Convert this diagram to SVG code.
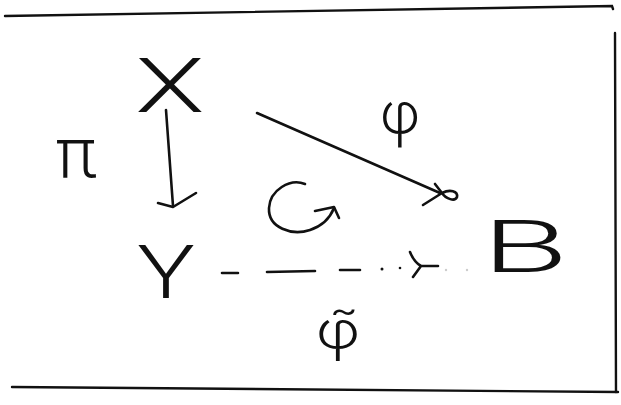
<svg xmlns="http://www.w3.org/2000/svg" width="621" height="405" viewBox="0 0 621 405">
<style>
.ln{fill:none;stroke:#111;stroke-width:2.6;stroke-linecap:round;stroke-linejoin:round}
.fr{fill:none;stroke:#111;stroke-width:2.4;stroke-linecap:round}
.lb{font-family:"Roboto","Liberation Sans",sans-serif;font-weight:300;fill:#111;text-anchor:middle}
.dot{fill:#111}
.faint{fill:#ccc}
</style>
<rect width="621" height="405" fill="#fff"/>
<g id="frame">
<path class="fr" d="M5,16 L612,6 L613,9"/>
<path class="fr" d="M12,387 L618,392"/>
<path class="fr" d="M615,33 L616,392"/>
</g>
<g id="node-X"><text class="lb" font-size="76" transform="translate(170,112) scale(1.5,1)">X</text></g>
<g id="node-Y"><text class="lb" font-size="74" transform="translate(166,298) scale(1.3,1)">Y</text></g>
<g id="node-B"><text class="lb" font-size="72" transform="translate(525,272) scale(1.95,1)">B</text></g>
<g id="connectors">
<g id="edge-pi">
<path class="ln" d="M166,110 L173,206"/>
<path class="ln" d="M158,203 L173,207 L196,193"/>
<text class="lb" font-size="70" x="76" y="177">π</text>
</g>
<g id="edge-phi">
<path class="ln" d="M257,113 L440,193"/>
<path class="ln" d="M423,205 L442,193 M435,184 L442,193 C450,189 458,191 457,197 C455,202 446,199 442,193"/>
<text class="lb" font-size="59" x="400" y="133">φ</text>
</g>
<g id="edge-phitilde">
<path class="ln" d="M222,273 L238,273 M267,272 L315,271 M340,270 L360,270"/>
<circle class="dot" cx="382" cy="269" r="1.5"/>
<circle class="dot" cx="400" cy="268" r="1.3"/>
<path class="ln" d="M410,252 Q414,262 421,266 L438,266 M421,266 L413,277"/>
<circle class="faint" cx="446" cy="270" r="1.2"/>
<circle class="faint" cx="467" cy="270" r="1.2"/>
<text class="lb" font-size="54" transform="translate(338,348) scale(1.2,1)">φ̃</text>
</g>
</g>
<g id="commutes">
<path class="ln" d="M305,184 C290,178 270,190 269,208 C268,228 292,236 310,230 C322,226 330,218 334,208"/>
<path class="ln" d="M315,211 L334,207 L339,218"/>
</g>
</svg>
